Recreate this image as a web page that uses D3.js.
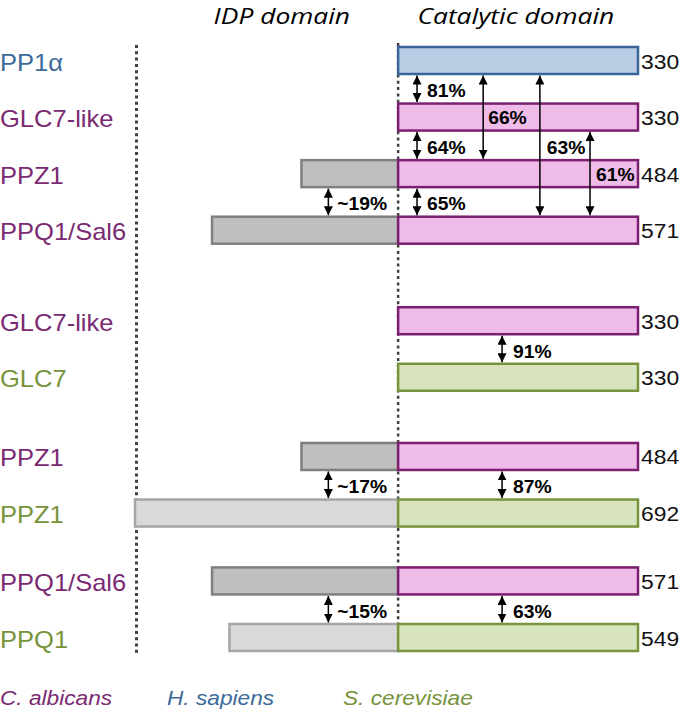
<!DOCTYPE html>
<html><head><meta charset="utf-8">
<script src="https://cdn.jsdelivr.net/npm/d3@7"></script>
<style>
html,body{margin:0;padding:0;background:#fff;}
svg{display:block;}
</style></head>
<body><svg id="chart" width="680" height="712"></svg>
<script>
// ---- data ----
const proteins = ["PP1α","GLC7-like","PPZ1","PPQ1/Sal6","GLC7-like","GLC7","PPZ1","PPZ1","PPQ1/Sal6","PPQ1"];
const species  = ["H","C","C","C","C","S","C","S","C","S"];
const totalLength = [330,330,484,571,330,330,484,692,571,549];
const catalyticLength = [330,330,330,330,330,330,330,330,330,330];
// IDP extents as drawn in the figure (residue units)
const idpDrawn = [0,0,133,256,0,0,133,362,256,232];
// row slots (layout, in row units)
const rowSlot = [0,1,2,3,4.6,5.6,7.0,8.0,9.2,10.2];
// pairwise identity comparisons
const cmpFrom  = [0,0,0,1,1,2,2,4,6,6,8,8];
const cmpTo    = [1,2,3,3,2,3,3,5,7,7,9,9];
const cmpLabel = ["81%","66%","63%","61%","64%","65%","~19%","91%","87%","~17%","63%","~15%"];
const cmpX     = [26,117,195,264,26,26,-96,143,143,-96,143,-96];   // residue coordinate of arrow
// label vertical anchor: between these two rows (same row = inside that bar)
const cmpLabelRowA = [0,1,1,2,1,2,2,4,6,6,8,8];
const cmpLabelRowB = [1,1,2,2,2,3,3,5,7,7,9,9];
const cmpLabelDx   = [10,5,7,6,10,10,9,11,11,9,11,9];
const headers = ["IDP domain","Catalytic domain"];
const headerX = [-160,162];
const legendNames = ["C. albicans","H. sapiens","S. cerevisiae"];
const legendSpecies = ["C","H","S"];

// ---- styles ----
const textColor = {C:"#7a2a72", H:"#3c6a9b", S:"#77933c"};
const catFill = {C:"#efbbe8", H:"#b9cde5", S:"#d7e4bd"};
const catStroke = {C:"#7b1f70", H:"#3b6599", S:"#77933c"};
const idpFill = {C:"#bfbfbf", S:"#d9d9d9"};
const idpStroke = {C:"#7f7f7f", S:"#a6a6a6"};
const SANS = "'Liberation Sans', Arial, sans-serif";

const svg = d3.select("#chart");
const x = d3.scaleLinear().domain([-362,330]).range([135,638]);
const y = d3.scaleLinear().domain([0,10.2]).range([60.5,637.5]);
const barH = 27;

// helper: text stretched horizontally (the figure's text is slightly wide)
function stretched(sel, sx){
  return sel.attr("transform", function(){
    const tx = +this.getAttribute("data-x"), ty = +this.getAttribute("data-y");
    return `translate(${tx},${ty}) scale(${sx},1)`;
  });
}

// arrow marker
const defs = svg.append("defs");
["start","end"].forEach(k=>{
  defs.append("marker").attr("id","ah-"+k)
    .attr("viewBox","0 0 10 10").attr("refX", 10).attr("refY",5)
    .attr("markerWidth",9).attr("markerHeight",9).attr("markerUnits","userSpaceOnUse")
    .attr("orient", k==="start" ? "auto-start-reverse" : "auto")
    .append("path").attr("d","M0,0L10,5L0,10Z").attr("fill","#000");
});

// headers
svg.selectAll("text.hdr").data(headers).join("text")
  .attr("class","hdr")
  .attr("data-x",(d,i)=>x(headerX[i])).attr("data-y",24)
  .attr("text-anchor","middle")
  .attr("font-family","'Open Sans', Lato, sans-serif").attr("font-style","italic")
  .attr("font-size",22).attr("fill","#000").text(d=>d)
  .call(stretched,1.2);

// dotted guides
svg.append("line").attr("x1",136.5).attr("x2",136.5).attr("y1",45).attr("y2",654)
  .attr("stroke","#404040").attr("stroke-width",3).attr("stroke-dasharray","3,3.3");
svg.append("line").attr("x1",x(0)).attr("x2",x(0)).attr("y1",43).attr("y2",654)
  .attr("stroke","#404040").attr("stroke-width",2.5).attr("stroke-dasharray","3,3.3");

const rows = d3.range(proteins.length);

// IDP bars
svg.selectAll("rect.idp").data(rows.filter(i=>idpDrawn[i]>0)).join("rect")
  .attr("class","idp")
  .attr("x",i=>x(-idpDrawn[i])).attr("width",i=>x(0)-x(-idpDrawn[i]))
  .attr("y",i=>y(rowSlot[i])-barH/2).attr("height",barH)
  .attr("fill",i=>idpFill[species[i]]).attr("stroke",i=>idpStroke[species[i]]).attr("stroke-width",2.5);

// catalytic bars
svg.selectAll("rect.cat").data(rows).join("rect")
  .attr("class","cat")
  .attr("x",x(0)).attr("width",i=>x(catalyticLength[i])-x(0))
  .attr("y",i=>y(rowSlot[i])-barH/2).attr("height",barH)
  .attr("fill",i=>catFill[species[i]]).attr("stroke",i=>catStroke[species[i]]).attr("stroke-width",2.5);

// protein labels
svg.selectAll("text.name").data(rows).join("text")
  .attr("class","name")
  .attr("data-x",0).attr("data-y",i=>y(rowSlot[i])+10)
  .attr("font-family",SANS).attr("font-size",23)
  .attr("fill",i=>textColor[species[i]]).text(i=>proteins[i])
  .call(stretched,1.11);

// length labels
svg.selectAll("text.len").data(rows).join("text")
  .attr("class","len")
  .attr("data-x",x(330)+3).attr("data-y",i=>y(rowSlot[i])+8)
  .attr("font-family",SANS).attr("font-size",21)
  .attr("fill","#111").text(i=>totalLength[i])
  .call(stretched,1.09);

// arrows
const cmps = d3.range(cmpLabel.length);
svg.selectAll("line.arr").data(cmps).join("line")
  .attr("class","arr")
  .attr("x1",j=>x(cmpX[j])).attr("x2",j=>x(cmpX[j]))
  .attr("y1",j=>y(rowSlot[cmpFrom[j]])+barH/2+1.5)
  .attr("y2",j=>y(rowSlot[cmpTo[j]])-barH/2-1.5)
  .attr("stroke","#000").attr("stroke-width",1.5)
  .attr("marker-start","url(#ah-start)").attr("marker-end","url(#ah-end)");

svg.selectAll("text.pct").data(cmps).join("text")
  .attr("class","pct")
  .attr("data-x",j=>x(cmpX[j])+cmpLabelDx[j])
  .attr("data-y",j=>{
    const a = y(rowSlot[cmpLabelRowA[j]]), b = y(rowSlot[cmpLabelRowB[j]]);
    return (a+b)/2 + (a===b ? 7 : 8.5);
  })
  .attr("font-family",SANS).attr("font-weight","bold")
  .attr("font-size",18).attr("fill","#000").text(j=>cmpLabel[j])
  .call(stretched,1.07);

// legend
const legendX = [0,167,343];
svg.selectAll("text.leg").data(legendNames).join("text")
  .attr("class","leg")
  .attr("data-x",(d,i)=>legendX[i]).attr("data-y",705)
  .attr("font-family",SANS).attr("font-style","italic")
  .attr("font-size",21).attr("fill",(d,i)=>textColor[legendSpecies[i]]).text(d=>d)
  .call(stretched,1.08);
</script></body></html>
